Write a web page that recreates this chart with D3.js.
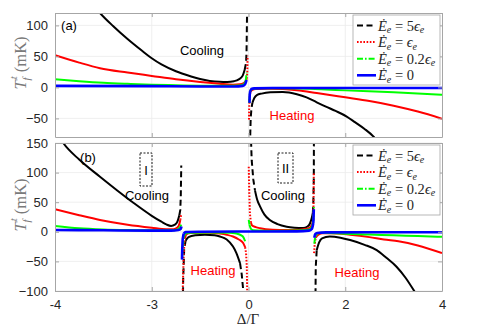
<!DOCTYPE html>
<html>
<head>
<meta charset="utf-8">
<script src="https://cdn.jsdelivr.net/npm/d3@7"></script>
<style>
  body { margin: 0; background: #fff; }
  svg text { font-family: "Liberation Sans", Arial, sans-serif; }
  .math { font-family: "Liberation Serif", "DejaVu Serif", serif; }
</style>
</head>
<body>
<div id="chart"></div>
<script>
// axis ticks
const xTicks = [-4, -2, 0, 2, 4];
const xTickLabels = ["-4", "-3", "0", "2", "4"];
const yTicksA = [-50, 0, 50, 100];
const yTicksB = [-100, -50, 0, 50, 100, 150];
const legendCoef = ["5", "", "0.2", "0"];

// panel (a): branches of [Delta/Gamma, T (mK)] per series
const blackA = [
  [[-3.2, 132], [-3.07, 120], [-2.8, 99], [-2.5, 78], [-2.2, 59], [-2, 47], [-1.8, 37], [-1.5, 26],
   [-1.2, 18], [-1, 13.5], [-0.8, 10.5], [-0.6, 9], [-0.44, 8.7], [-0.3, 10], [-0.2, 13], [-0.12, 19],
   [-0.08, 28], [-0.05, 40], [-0.04, 60], [-0.03, 120], [-0.025, 200]],
  [[0.03, -200], [0.035, -80], [0.045, -50], [0.06, -35], [0.08, -25], [0.12, -17], [0.18, -12],
   [0.27, -10], [0.45, -8], [0.71, -7.5], [1.0, -11], [1.2, -16], [1.41, -24], [1.6, -31], [1.8, -38],
   [2.03, -47], [2.2, -56], [2.4, -67], [2.58, -79], [2.7, -90]]
];
const redA = [
  [[-4, 52], [-3.5, 40], [-3.07, 31], [-2.5, 24], [-2, 18.5], [-1.5, 13], [-1, 8.7], [-0.6, 6],
   [-0.32, 4.4], [-0.18, 5], [-0.1, 7], [-0.06, 10], [-0.035, 14], [-0.025, 25], [-0.018, 51]],
  [[0.01, -52], [0.015, -30], [0.025, -14], [0.04, -7], [0.08, -4], [0.15, -2.5], [0.4, -2],
   [0.71, -2.6], [1.0, -4.5], [1.41, -9], [2, -16], [2.5, -22], [3, -29.5], [3.5, -39], [4, -50.5]]
];
const greenA = [
  [[-4, 13], [-3.5, 10], [-3, 7.5], [-2.5, 5.8], [-2, 4.4], [-1.5, 3.5], [-1, 2.8], [-0.5, 2.5],
   [-0.2, 3], [-0.1, 5], [-0.06, 10], [-0.035, 24]],
  [[0.015, -25], [0.025, -12], [0.04, -5], [0.08, -2.5], [0.2, -1.5], [0.7, -1.5], [1.5, -3],
   [2, -4.8], [3, -8], [4, -11.8]]
];
const blueA = [
  [[-4, 2.5], [-2, 2], [-1, 1.5], [-0.3, 1.5], [-0.12, 2.5], [-0.07, 5], [-0.04, 12]],
  [[0.02, -25], [0.025, -12], [0.035, -6], [0.06, -2.5], [0.12, -1.5], [0.5, -1], [4, -1]]
];

// panel (b)
const blackB = [
  [[-4, 172], [-3.83, 150], [-3.5, 122], [-3.07, 93], [-2.7, 69], [-2.38, 49], [-2.0, 27], [-1.8, 17],
   [-1.69, 12], [-1.6, 10], [-1.52, 12], [-1.47, 17], [-1.43, 28], [-1.41, 37], [-1.40, 60], [-1.39, 112]],
  [[-1.37, -200], [-1.35, -80], [-1.33, -30], [-1.3, -15], [-1.24, -9], [-1.1, -6], [-0.9, -5],
   [-0.7, -6], [-0.59, -8], [-0.45, -13], [-0.32, -25], [-0.25, -36], [-0.175, -53], [-0.14, -72],
   [-0.11, -98], [-0.09, -130]],
  [[0.03, 250], [0.05, 160], [0.066, 121], [0.1, 88], [0.134, 70], [0.18, 54], [0.238, 43], [0.33, 29],
   [0.44, 20], [0.6, 13], [0.79, 8.6], [0.95, 7], [1.13, 6.4], [1.22, 9], [1.27, 14], [1.31, 24],
   [1.33, 32], [1.34, 48], [1.35, 90], [1.355, 250]],
  [[1.37, -250], [1.39, -60], [1.41, -31], [1.46, -18], [1.52, -11], [1.68, -8], [1.9, -10], [2.1, -14],
   [2.4, -22], [2.65, -31], [2.85, -44], [3.06, -59], [3.25, -78], [3.41, -98], [3.5, -110]]
];
const redB = [
  [[-4, 38], [-3.5, 28], [-3.07, 20], [-2.5, 12], [-2, 7], [-1.7, 4.5], [-1.55, 4.5], [-1.47, 7],
   [-1.43, 13], [-1.41, 20], [-1.39, 30]],
  [[-1.38, -250], [-1.36, -100], [-1.34, -40], [-1.32, -12], [-1.28, -4], [-1.2, -2], [-1.0, -1.5],
   [-0.8, -1.5], [-0.59, -3], [-0.45, -5], [-0.32, -8], [-0.2, -13], [-0.11, -19], [-0.07, -26],
   [-0.05, -36], [-0.035, -60], [-0.025, -110], [-0.02, -200]],
  [[0.005, 110], [0.015, 70], [0.03, 30], [0.05, 16], [0.07, 11], [0.15, 8], [0.24, 6], [0.5, 3.5],
   [0.79, 3], [1.05, 3.5], [1.2, 5], [1.27, 7], [1.31, 12], [1.34, 20], [1.345, 50], [1.35, 100]],
  [[1.355, -36], [1.37, -20], [1.39, -10], [1.43, -6], [1.52, -2.5], [1.7, -2.5], [2.1, -5], [2.5, -9],
   [2.8, -13], [3.1, -16], [3.5, -23], [4, -36]]
];
const greenB = [
  [[-4, 10], [-3.5, 6], [-3, 4], [-2.5, 3], [-2, 2.5], [-1.6, 2.5], [-1.47, 4], [-1.42, 7], [-1.39, 12]],
  [[-1.375, -45], [-1.36, -30], [-1.34, -10], [-1.3, -3], [-1.2, -1.5], [-0.8, -1], [-0.4, -1.5],
   [-0.25, -3], [-0.15, -6], [-0.1, -10], [-0.07, -16]],
  [[0.005, 20], [0.02, 12], [0.05, 5], [0.1, 2.5], [0.5, 1.5], [1.0, 2], [1.25, 4], [1.31, 8],
   [1.34, 20], [1.35, 42]],
  [[1.36, -20], [1.38, -8], [1.42, -3], [1.5, -1.5], [2, -3.5], [2.5, -4.5], [3, -6], [3.5, -7], [4, -8.5]]
];
const blueB = [
  [[-4, 3], [-3, 2.5], [-2, 2], [-1.6, 2], [-1.45, 3], [-1.4, 5], [-1.385, 9]],
  [[-1.375, -47], [-1.37, -30], [-1.36, -12], [-1.34, -3], [-1.3, -0.5], [-1, 0], [0, 0.5], [1, 0.8],
   [1.25, 2], [1.31, 5], [1.34, 15], [1.35, 38]],
  [[1.36, -10], [1.38, -4], [1.42, -2], [1.6, -1], [2.5, -0.8], [4, -0.8]]
];

const width = 501;
const height = 327;
const plotLeft = 55;
const plotRight = 442;

const colors = ["#000000", "#ff0000", "#00ff00", "#0000ff"];
const dashes = ["6,3.5", "1.6,1.6", "6,2,1.6,2", null];
const widths = [2, 2, 2, 2.6];
const frameColor = "#a6a6a6";

const svg = d3.select("#chart")
  .append("svg")
  .attr("width", width)
  .attr("height", height)
  .style("display", "block");

const x = d3.scaleLinear().domain([-4, 4]).range([plotLeft, plotRight]);

const panels = [
  { id: "a", top: 13, bottom: 137, domain: [-80, 120], ticks: yTicksA, series: [blackA, redA, greenA, blueA] },
  { id: "b", top: 143, bottom: 291, domain: [-100, 150], ticks: yTicksB, series: [blackB, redB, greenB, blueB] },
];

// draws a branch: smooth parts solid, near-vertical parts with the series dash pattern
function drawBranch(g, pts, y, i) {
  const px = pts.map(d => [x(d[0]), y(d[1])]);
  const runs = [];
  let cur = { steep: null, pts: [px[0]] };
  for (let k = 1; k < px.length; k++) {
    const dx = Math.abs(px[k][0] - px[k - 1][0]);
    const dy = Math.abs(px[k][1] - px[k - 1][1]);
    const steep = dy > 5 * dx && dy > 3;
    if (cur.steep === null) cur.steep = steep;
    if (steep !== cur.steep) {
      runs.push(cur);
      cur = { steep, pts: [px[k - 1]] };
    }
    cur.pts.push(px[k]);
  }
  runs.push(cur);
  runs.forEach(r => {
    const gen = r.steep ? d3.line() : d3.line().curve(d3.curveMonotoneX);
    g.append("path")
      .attr("d", gen(r.pts))
      .attr("fill", "none")
      .attr("stroke", colors[i])
      .attr("stroke-width", widths[i])
      .attr("stroke-dasharray", r.steep ? dashes[i] : null);
  });
}

function styleAxis(sel) {
  sel.select(".domain").attr("stroke", frameColor);
  sel.selectAll(".tick line").attr("stroke", frameColor);
  sel.selectAll(".tick text").attr("fill", "#262626").style("font-size", "13px");
}

panels.forEach((p, pi) => {
  const y = d3.scaleLinear().domain(p.domain).range([p.bottom, p.top]);
  const g = svg.append("g");

  // grid
  g.append("g").selectAll("line").data(xTicks.slice(1, -1)).join("line")
    .attr("x1", d => x(d)).attr("x2", d => x(d))
    .attr("y1", p.top).attr("y2", p.bottom)
    .attr("stroke", "#ebebeb").attr("stroke-width", 0.8);
  g.append("g").selectAll("line").data(p.ticks).join("line")
    .attr("x1", plotLeft).attr("x2", plotRight)
    .attr("y1", d => y(d)).attr("y2", d => y(d))
    .attr("stroke", "#ebebeb").attr("stroke-width", 0.8);

  // curves
  const clipId = "clip-" + p.id;
  svg.append("clipPath").attr("id", clipId)
    .append("rect")
    .attr("x", plotLeft).attr("y", p.top)
    .attr("width", plotRight - plotLeft).attr("height", p.bottom - p.top);
  const lines = g.append("g").attr("clip-path", `url(#${clipId})`);
  p.series.forEach((branches, i) => {
    branches.forEach(b => drawBranch(lines, b, y, i));
  });

  // axes, ticks pointing inward
  g.append("g").attr("transform", `translate(${plotLeft},0)`)
    .call(d3.axisLeft(y).tickValues(p.ticks).tickSizeInner(-4).tickSizeOuter(0).tickPadding(7))
    .call(styleAxis);
  g.append("g").attr("transform", `translate(${plotRight},0)`)
    .call(d3.axisRight(y).tickValues(p.ticks).tickSizeInner(-4).tickSizeOuter(0).tickFormat(""))
    .call(styleAxis);
  g.append("g").attr("transform", `translate(0,${p.top})`)
    .call(d3.axisTop(x).tickValues(xTicks).tickSizeInner(-4).tickSizeOuter(0).tickFormat(""))
    .call(styleAxis);
  g.append("g").attr("transform", `translate(0,${p.bottom})`)
    .call(d3.axisBottom(x).tickValues(xTicks).tickSizeInner(-4).tickSizeOuter(0).tickPadding(9)
      .tickFormat((d, k) => pi === 1 ? xTickLabels[k] : ""))
    .call(styleAxis);

  // y label
  const ly = (p.top + p.bottom) / 2 - 12;
  const yl = g.append("text").attr("class", "math")
    .attr("transform", `translate(26,${ly}) rotate(-90)`)
    .attr("text-anchor", "middle")
    .attr("fill", "#7a7a7a")
    .style("font-size", "16.5px");
  yl.append("tspan").style("font-style", "italic").text("T");
  yl.append("tspan").style("font-style", "italic").style("font-size", "11px").attr("dy", 3.5).text("f");
  yl.append("tspan").style("font-style", "italic").style("font-size", "11px").attr("dx", -2).attr("dy", -13).text("t");
  yl.append("tspan").attr("dy", 9.5).text(" (mK)");

  // legend
  const lx = 353, lTop = p.top + 2, rowY = p.top + 12.5, step = 16.6;
  const lg = g.append("g");
  lg.append("rect")
    .attr("x", lx).attr("y", lTop).attr("width", 87).attr("height", 70)
    .attr("fill", "#fff").attr("stroke", frameColor).attr("stroke-width", 0.8);
  legendCoef.forEach((c, i) => {
    const yy = rowY + i * step;
    lg.append("line")
      .attr("x1", lx + 4).attr("x2", lx + 23).attr("y1", yy).attr("y2", yy)
      .attr("stroke", colors[i]).attr("stroke-width", widths[i])
      .attr("stroke-dasharray", dashes[i]);
    const t = lg.append("text").attr("class", "math")
      .attr("x", lx + 25).attr("y", yy + 5)
      .attr("fill", "#262626").style("font-size", "14.5px");
    t.append("tspan").style("font-style", "italic").text("\u0116");
    t.append("tspan").style("font-style", "italic").style("font-size", "10px").attr("dy", 2.5).text("e");
    if (c === "0") {
      t.append("tspan").attr("dy", -2.5).text(" = 0");
    } else {
      t.append("tspan").attr("dy", -2.5).text(" = " + c);
      t.append("tspan").style("font-style", "italic").text("\u03f5");
      t.append("tspan").style("font-style", "italic").style("font-size", "10px").attr("dy", 2.5).text("e");
    }
  });
});

// annotations
function label(txt, px, py, color) {
  svg.append("text").attr("x", px).attr("y", py)
    .attr("text-anchor", "middle").attr("fill", color)
    .style("font-size", "13px").text(txt);
}
label("(a)", 69, 30, "#000");
label("Cooling", 202, 55, "#000");
label("Heating", 292, 120, "#ff0000");
label("(b)", 88, 162, "#000");
label("Cooling", 147, 200, "#000");
label("Cooling", 283, 200, "#000");
label("Heating", 213, 275, "#ff0000");
label("Heating", 357, 277, "#ff0000");

// dashed boxes
[[140, 153, 12, 33, "I"], [278, 153, 15, 30, "II"]].forEach(([bx, by, bw, bh, t]) => {
  svg.append("rect").attr("x", bx).attr("y", by).attr("width", bw).attr("height", bh)
    .attr("fill", "none").attr("stroke", "#000").attr("stroke-width", 0.9)
    .attr("stroke-dasharray", "2,1.5");
  label(t, bx + bw / 2, by + bh / 2 + 5, "#000");
});

// x label
svg.append("text").attr("class", "math")
  .attr("x", 248).attr("y", 324).attr("text-anchor", "middle")
  .attr("fill", "#262626").style("font-size", "15px")
  .text("\u0394/\u0393");
</script>
</body>
</html>
